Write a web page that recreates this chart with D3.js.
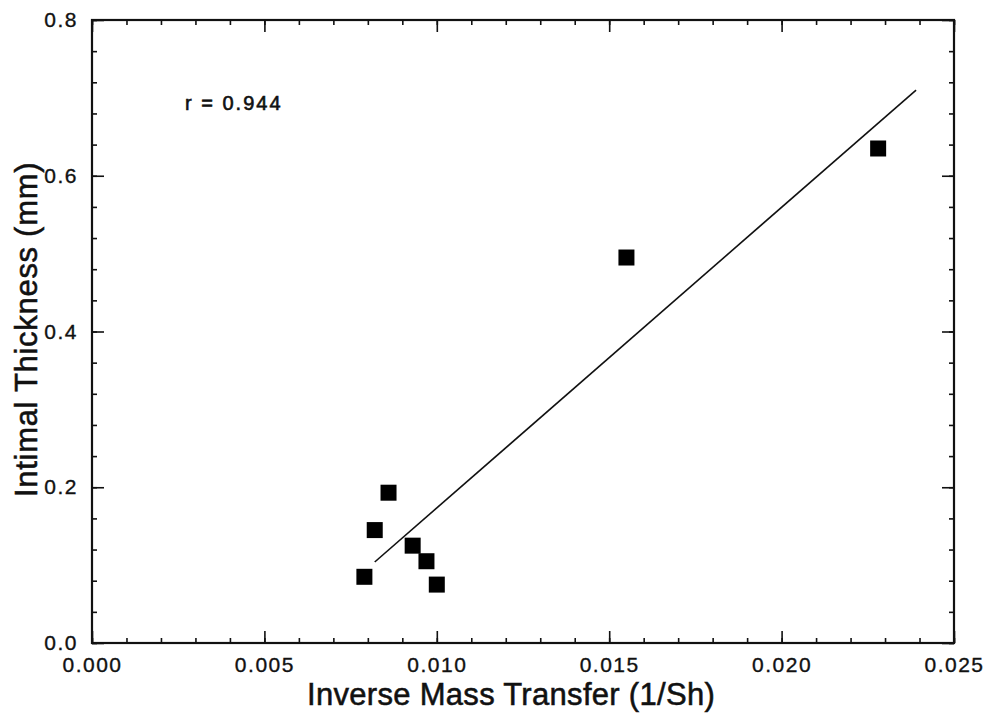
<!DOCTYPE html>
<html><head><meta charset="utf-8">
<script src="https://cdn.jsdelivr.net/npm/d3@7"></script>
<style>
body{margin:0;background:#fff;}
svg{display:block;font-family:"Liberation Sans",Arial,Helvetica,sans-serif;}
</style></head>
<body><svg id="chart" width="993" height="715"></svg>
<script>
// Data
const xVals = [0.0079, 0.0082, 0.0086, 0.0093, 0.0097, 0.0100, 0.0155, 0.0228];
const yVals = [0.085, 0.145, 0.193, 0.125, 0.105, 0.075, 0.495, 0.635];
const fitX = [0.0082, 0.0239];
const fitY = [0.104, 0.710];
const xTicks = [0.000, 0.005, 0.010, 0.015, 0.020, 0.025];
const yTicks = [0.0, 0.2, 0.4, 0.6, 0.8];
const xTitle = "Inverse Mass Transfer (1/Sh)";
const yTitle = "Intimal Thickness (mm)";
const annotation = "r = 0.944";

const svg = d3.select("#chart");
const L = 92, R = 954, T = 20, B = 643;
const x = d3.scaleLinear().domain([0, 0.025]).range([L, R]);
const y = d3.scaleLinear().domain([0, 0.8]).range([B, T]);
const ink = "#111";

const xMinor = d3.range(0, 0.0251, 0.001);
const yMinor = d3.range(0, 0.801, 0.04);

function styleAxis(g){
  g.select(".domain").remove();
  g.selectAll("line").attr("stroke", ink).attr("stroke-width", 1.6);
  g.selectAll("text").attr("fill", ink).attr("stroke", ink).attr("stroke-width", 0.35)
    .style("font-size", "21px").attr("letter-spacing", "1.5px");
}
// minor ticks
svg.append("g").attr("transform", `translate(0,${B})`)
  .call(d3.axisBottom(x).tickValues(xMinor).tickSize(-5).tickFormat("")).call(styleAxis);
svg.append("g").attr("transform", `translate(0,${T})`)
  .call(d3.axisTop(x).tickValues(xMinor).tickSize(-5).tickFormat("")).call(styleAxis);
svg.append("g").attr("transform", `translate(${L},0)`)
  .call(d3.axisLeft(y).tickValues(yMinor).tickSize(-5).tickFormat("")).call(styleAxis);
svg.append("g").attr("transform", `translate(${R},0)`)
  .call(d3.axisRight(y).tickValues(yMinor).tickSize(-5).tickFormat("")).call(styleAxis);
// major ticks
svg.append("g").attr("transform", `translate(0,${B})`)
  .call(d3.axisBottom(x).tickValues(xTicks).tickSize(-12).tickPadding(14).tickFormat(d3.format(".3f"))).call(styleAxis);
svg.append("g").attr("transform", `translate(0,${T})`)
  .call(d3.axisTop(x).tickValues(xTicks).tickSize(-12).tickFormat("")).call(styleAxis);
svg.append("g").attr("transform", `translate(${L},0)`)
  .call(d3.axisLeft(y).tickValues(yTicks).tickSize(-12).tickPadding(14).tickFormat(d3.format(".1f"))).call(styleAxis);
svg.append("g").attr("transform", `translate(${R},0)`)
  .call(d3.axisRight(y).tickValues(yTicks).tickSize(-12).tickFormat("")).call(styleAxis);

// frame
svg.append("rect").attr("x", L).attr("y", T).attr("width", R - L).attr("height", B - T)
  .attr("fill", "none").attr("stroke", ink).attr("stroke-width", 2.2);

// regression line
svg.append("line")
  .attr("x1", x(fitX[0])).attr("y1", y(fitY[0]))
  .attr("x2", x(fitX[1])).attr("y2", y(fitY[1]))
  .attr("stroke", ink).attr("stroke-width", 1.6);

// points
const s = 16;
svg.append("g").selectAll("rect").data(xVals.map((d, i) => [d, yVals[i]])).join("rect")
  .attr("x", d => x(d[0]) - s / 2).attr("y", d => y(d[1]) - s / 2)
  .attr("width", s).attr("height", s).attr("fill", "#000");

// annotation
svg.append("text").attr("x", 185).attr("y", 110).attr("fill", ink).attr("stroke", ink).attr("stroke-width", 0.6)
  .style("font-size", "20px").attr("letter-spacing", "2px")
  .text(annotation);

// axis titles
svg.append("text").attr("x", 307).attr("y", 705)
  .attr("fill", ink).attr("stroke", ink).attr("stroke-width", 0.55).attr("letter-spacing", "0.3px")
  .style("font-size", "31px").text(xTitle);
svg.append("text").attr("transform", `translate(37,497) rotate(-90)`)
  .attr("fill", ink).attr("stroke", ink).attr("stroke-width", 0.55).attr("letter-spacing", "0.7px")
  .style("font-size", "31px").text(yTitle);
</script></body></html>
